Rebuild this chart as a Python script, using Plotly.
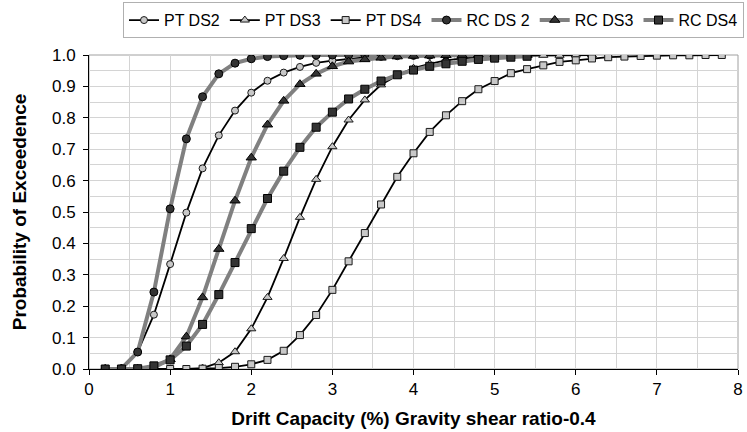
import plotly.graph_objects as go

X = [0.2, 0.4, 0.6, 0.8, 1.0, 1.2, 1.4, 1.6, 1.8, 2.0,
     2.2, 2.4, 2.6, 2.8, 3.0, 3.2, 3.4, 3.6, 3.8, 4.0,
     4.2, 4.4, 4.6, 4.8, 5.0, 5.2, 5.4, 5.6, 5.8, 6.0,
     6.2, 6.4, 6.6, 6.8, 7.0, 7.2, 7.4, 7.6, 7.8]

pt_ds2 = [0.000, 0.002, 0.054, 0.173, 0.334, 0.498, 0.639, 0.744, 0.823, 0.880,
          0.918, 0.944, 0.962, 0.975, 0.982, 0.988, 0.992, 0.994, 0.996, 0.997,
          0.998, 0.998, 0.999, 0.999, 0.999, 1.000, 1.000]
pt_ds3 = [0.000, 0.000, 0.000, 0.000, 0.000, 0.000, 0.003, 0.020, 0.055, 0.128,
          0.228, 0.352, 0.483, 0.604, 0.708, 0.793, 0.857, 0.905, 0.935, 0.958,
          0.972, 0.983, 0.989, 0.993, 0.996, 0.997, 0.998, 0.999, 0.999, 1.000,
          1.000]
pt_ds4 = [0.000, 0.000, 0.000, 0.000, 0.000, 0.000, 0.001, 0.003, 0.007, 0.015,
          0.029, 0.058, 0.108, 0.172, 0.252, 0.343, 0.433, 0.524, 0.612, 0.687,
          0.755, 0.808, 0.853, 0.891, 0.917, 0.942, 0.955, 0.967, 0.978, 0.983,
          0.989, 0.993, 0.995, 0.997, 0.998, 0.999, 0.999, 1.000, 1.000]
rc_ds2 = [0.000, 0.001, 0.054, 0.245, 0.510, 0.733, 0.867, 0.940, 0.974, 0.988,
          0.995, 0.998, 0.999, 1.000, 1.000, 1.000, 1.000, 1.000, 1.000, 1.000,
          1.000, 1.000, 1.000, 1.000, 1.000, 1.000, 1.000]
rc_ds3 = [0.000, 0.000, 0.000, 0.005, 0.031, 0.103, 0.228, 0.382, 0.536, 0.673,
          0.778, 0.854, 0.907, 0.940, 0.964, 0.979, 0.986, 0.991, 0.995, 0.997,
          0.998, 0.999, 0.999, 1.000, 1.000, 1.000, 1.000]
rc_ds4 = [0.000, 0.000, 0.001, 0.010, 0.029, 0.073, 0.142, 0.237, 0.339, 0.447,
          0.543, 0.630, 0.706, 0.770, 0.818, 0.860, 0.891, 0.917, 0.937, 0.952,
          0.964, 0.972, 0.980, 0.986, 0.990, 0.993, 0.996]

x_ticks = [0, 1, 2, 3, 4, 5, 6, 7, 8]
y_ticks = [0.0, 0.1, 0.2, 0.3, 0.4, 0.5, 0.6, 0.7, 0.8, 0.9, 1.0]

series = [
    ("PT DS2", pt_ds2, "pt", "circle"),
    ("PT DS3", pt_ds3, "pt", "triangle-up"),
    ("PT DS4", pt_ds4, "pt", "square"),
    ("RC DS 2", rc_ds2, "rc", "circle"),
    ("RC DS3", rc_ds3, "rc", "triangle-up"),
    ("RC DS4", rc_ds4, "rc", "square"),
]

fig = go.Figure()
for name, vals, kind, sym in series:
    xs = X[:len(vals)]
    if kind == "pt":
        line = dict(color="#000000", width=1.8)
        marker = dict(symbol=sym, size=7 if sym != "triangle-up" else 8,
                      color="#c8c8c8", line=dict(color="#1a1a1a", width=1))
    else:
        line = dict(color="#808080", width=4)
        marker = dict(symbol=sym, size=8 if sym != "triangle-up" else 9,
                      color="#333333", line=dict(color="#000000", width=1))
    fig.add_trace(go.Scatter(x=xs, y=vals, mode="lines+markers", name=name,
                             line=line, marker=marker))

font_family = "Liberation Sans, Arial, sans-serif"
grid_c = "#d4d4d4"

fig.update_layout(
    width=747, height=432,
    margin=dict(l=89, r=9, t=55, b=63, autoexpand=False),
    paper_bgcolor="white", plot_bgcolor="white",
    font=dict(family=font_family, size=17, color="#000000"),
    showlegend=True,
    legend=dict(orientation="h", xref="container", yref="container",
                x=0.996, xanchor="right", y=0.995, yanchor="top",
                bgcolor="white", bordercolor="#b0b0b0", borderwidth=1,
                font=dict(size=16, family=font_family),
                itemwidth=30, tracegroupgap=0),
    xaxis=dict(range=[0, 8], tickvals=x_ticks, ticktext=[str(v) for v in x_ticks],
               showgrid=True, gridcolor=grid_c, gridwidth=1,
               minor=dict(dtick=0.5, showgrid=True, gridcolor=grid_c, gridwidth=1),
               ticks="outside", ticklen=5, tickcolor="#000000",
               showline=True, linecolor="#000000", linewidth=1, mirror=False,
               zeroline=False, automargin=False,
               title=dict(text="<b>Drift Capacity (%) Gravity shear ratio-0.4</b>",
                          font=dict(size=19), standoff=13),
               tickfont=dict(size=17)),
    yaxis=dict(range=[0, 1.0], tickvals=y_ticks, ticktext=[f"{v:.1f}" for v in y_ticks],
               showgrid=True, gridcolor=grid_c, gridwidth=1,
               minor=dict(dtick=0.05, showgrid=True, gridcolor=grid_c, gridwidth=1),
               ticks="outside", ticklen=5, tickcolor="#000000",
               showline=True, linecolor="#000000", linewidth=1,
               zeroline=False, ticklabelstandoff=4, automargin=False,
               title=dict(text="<b>Probability of Exceedence</b>", font=dict(size=19),
                          standoff=20),
               tickfont=dict(size=17)),
)

# border of plot area in gray
fig.add_shape(type="rect", xref="paper", yref="paper", x0=0, y0=0, x1=1, y1=1,
              line=dict(color="#a0a0a0", width=1), layer="below")

fig.write_html("out.html")
